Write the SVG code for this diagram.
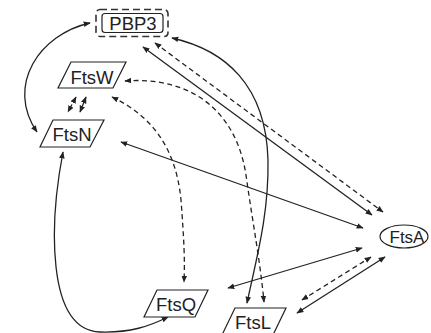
<svg xmlns="http://www.w3.org/2000/svg" width="431" height="333" viewBox="0 0 431 333">
<style>
.n{fill:#fff;stroke:#222;stroke-width:1.2}
.t{font-family:"Liberation Sans",Arial,sans-serif;font-size:18.5px;fill:#222;text-anchor:middle}
.c{fill:none;stroke:#222;stroke-width:1.3;marker-start:url(#a);marker-end:url(#a)}
.d{stroke-dasharray:5,3.5}
</style>
<defs>
<marker id="a" viewBox="0 0 10 10" refX="9" refY="5" markerWidth="7" markerHeight="7" markerUnits="userSpaceOnUse" orient="auto-start-reverse">
<path d="M0,1 L10,5 L0,9 Z" fill="#222"/>
</marker>
</defs>
<rect width="431" height="333" fill="#fff"/>
<g id="connectors">
<path class="c" d="M90 23 C40 34 5 85 37 132"/>
<path class="c d" d="M76 97 L68 112"/>
<path class="c" d="M86 97 L80 112"/>
<path class="c" d="M63 152 C50 220 45 330 100 332 C130 333 150 326 168 317"/>
<path class="c" d="M121 142 L363 228"/>
<path class="c" d="M143 47 L372 215"/>
<path class="c d" d="M155 43 L383 212"/>
<path class="c" d="M172 38 C225 50 266 85 268 160 C269 215 256 260 247 303"/>
<path class="c d" d="M125 81 C190 76 236 110 246 175 C253 225 260 260 264 302"/>
<path class="c d" d="M112 97 C152 116 176 148 181 200 C184 240 185 260 184 282"/>
<path class="c" d="M228 288 L362 248"/>
<path class="c d" d="M302 300 L371 257"/>
<path class="c" d="M297 313 L385 257"/>
</g>
<g id="PBP3">
<rect x="96" y="9.5" width="72" height="27" rx="4" fill="#fff" stroke="#333" stroke-width="1.6" stroke-dasharray="7,4"/>
<rect x="102" y="13.5" width="61" height="19" rx="3" class="n"/>
<text class="t" x="133" y="30">PBP3</text>
</g>
<g id="FtsW">
<polygon class="n" points="71,62 126,62 113,88 58,88"/>
<text class="t" x="92" y="84">FtsW</text>
</g>
<g id="FtsN">
<polygon class="n" points="53,120 104,120 90,147 40,147"/>
<text class="t" x="72" y="141">FtsN</text>
</g>
<g id="FtsQ">
<polygon class="n" points="157,290 208,290 195,317 144,317"/>
<text class="t" x="176" y="311">FtsQ</text>
</g>
<g id="FtsL">
<polygon class="n" points="235,308 286,308 273,335 222,335"/>
<text class="t" x="253" y="329">FtsL</text>
</g>
<g id="FtsA">
<ellipse class="n" cx="404" cy="236.5" rx="24" ry="11.5"/>
<text class="t" x="407" y="243" style="font-size:17px">FtsA</text>
</g>
</svg>
